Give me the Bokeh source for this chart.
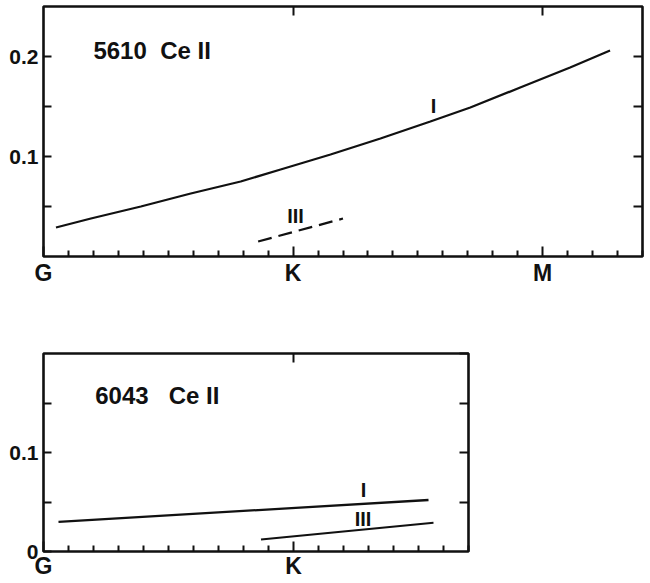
from bokeh.plotting import figure
from bokeh.layouts import column
from bokeh.models import LinearAxis, FixedTicker, Range1d, CustomLabelingPolicy
from bokeh.core.properties import value
from bokeh.embed import file_html
from bokeh.resources import INLINE

# Spectral-type axis: G0 = 0, K0 = 10, M0 = 20 (subclass units)
type_ticks = [0, 10, 20]
type_labels = ["G", "K", "M"]

# Panel 1: 5610 Ce II
top_title = "5610\u00a0\u00a0Ce II"
top_y_ticks = [0.1, 0.2]
top_y_labels = ["0.1", "0.2"]
top_I_x = [0.5, 1.9, 3.9, 5.9, 7.9, 9.5, 11.5, 13.5, 15.5, 17.1, 19.1, 21.1, 22.7]
top_I_y = [0.029, 0.038, 0.050, 0.063, 0.075, 0.087, 0.102, 0.118, 0.135, 0.149,
           0.169, 0.189, 0.206]
top_III_x = [8.6, 12.0]
top_III_y = [0.015, 0.038]

# Panel 2: 6043 Ce II
bot_title = "6043\u00a0\u00a0\u00a0Ce II"
bot_y_ticks = [0.0, 0.1]
bot_y_labels = ["0", "0.1"]
bot_I_x = [0.6, 15.4]
bot_I_y = [0.030, 0.052]
bot_III_x = [8.7, 15.6]
bot_III_y = [0.012, 0.029]

LINE = "#111111"
BOLD = "Liberation Sans"

no_labels = CustomLabelingPolicy(
    code="const all = [...indices]; for (const i of all) indices.unset(i); return indices")


def make_panel(x_end, y_end, frame_w, frame_h, border_top, border_bottom,
               y_ticks, y_labels, x_ticks, x_labels, label_standoff):
    p = figure(frame_width=frame_w, frame_height=frame_h,
               x_range=Range1d(0, x_end), y_range=Range1d(0, y_end),
               x_axis_type=None, y_axis_type=None,
               output_backend="svg", toolbar_location=None,
               min_border_left=43, min_border_right=6,
               min_border_top=border_top, min_border_bottom=border_bottom,
               background_fill_color="white", border_fill_color="white")
    p.outline_line_color = LINE
    p.outline_line_width = 2.6
    p.xgrid.visible = False
    p.ygrid.visible = False

    minor_x = [m for m in range(1, int(x_end) + 1) if m not in x_ticks]
    bottom = LinearAxis(ticker=FixedTicker(ticks=x_ticks, minor_ticks=minor_x),
                        major_label_overrides=dict(zip(x_ticks, x_labels)),
                        axis_line_color=None,
                        major_tick_in=10, major_tick_out=0,
                        minor_tick_in=6, minor_tick_out=0,
                        major_tick_line_width=2, minor_tick_line_width=2,
                        major_tick_line_color=LINE, minor_tick_line_color=LINE,
                        major_label_standoff=label_standoff,
                        major_label_text_font=BOLD,
                        major_label_text_font_style="bold",
                        major_label_text_font_size="23px",
                        major_label_text_color=LINE)
    p.add_layout(bottom, "below")

    left = LinearAxis(ticker=FixedTicker(ticks=y_ticks, minor_ticks=[0.05, 0.15]),
                      major_label_overrides=dict(zip(y_ticks, y_labels)),
                      axis_line_color=None,
                      major_tick_in=8, major_tick_out=0,
                      minor_tick_in=8, minor_tick_out=0,
                      major_tick_line_width=2, minor_tick_line_width=2,
                      major_tick_line_color=LINE, minor_tick_line_color=LINE,
                      major_label_standoff=5,
                      major_label_text_font=BOLD,
                      major_label_text_font_style="bold",
                      major_label_text_font_size="21px",
                      major_label_text_color=LINE)
    p.add_layout(left, "left")

    right = LinearAxis(ticker=FixedTicker(ticks=[0.05, 0.1, 0.15, 0.2]),
                       axis_line_color=None,
                       major_tick_in=9, major_tick_out=0,
                       major_tick_line_width=2, major_tick_line_color=LINE,
                       major_label_standoff=0,
                       major_label_text_font_size="1px",
                       major_label_policy=no_labels)
    p.add_layout(right, "right")

    top_ticks = [t for t in x_ticks if 0 < t < x_end]
    above = LinearAxis(ticker=FixedTicker(ticks=top_ticks),
                       axis_line_color=None,
                       major_tick_in=9, major_tick_out=0,
                       major_tick_line_width=2, major_tick_line_color=LINE,
                       major_label_standoff=0,
                       major_label_text_font_size="1px",
                       major_label_policy=no_labels)
    p.add_layout(above, "above")
    return p


# ---- top panel ----
p1 = make_panel(24, 0.25, 599, 250, 6, 40, top_y_ticks, top_y_labels,
                type_ticks, type_labels, 3)
p1.line(top_I_x, top_I_y, line_color=LINE, line_width=2.3)
p1.line(top_III_x, top_III_y, line_color=LINE, line_width=2.3, line_dash="14 7")
p1.text(x=[2.0], y=[0.206], text=[top_title], text_font=value(BOLD),
        text_font_style="bold", text_font_size="24px", text_color=LINE,
        text_align="left", text_baseline="middle")
p1.text(x=[15.63, 10.1], y=[0.1505, 0.041], text=["I", "III"], text_font=value(BOLD),
        text_font_style="bold", text_font_size="20px", text_color=LINE,
        text_align="center", text_baseline="middle")

# ---- bottom panel ----
p2 = make_panel(17, 0.2, 425, 198, 57, 32, bot_y_ticks, bot_y_labels,
                type_ticks[:2], type_labels[:2], 1)
p2.line(bot_I_x, bot_I_y, line_color=LINE, line_width=2.3)
p2.line(bot_III_x, bot_III_y, line_color=LINE, line_width=2.0)
p2.text(x=[2.07], y=[0.158], text=[bot_title], text_font=value(BOLD),
        text_font_style="bold", text_font_size="24px", text_color=LINE,
        text_align="left", text_baseline="middle")
p2.text(x=[12.8, 12.78], y=[0.0626, 0.0328], text=["I", "III"], text_font=value(BOLD),
        text_font_style="bold", text_font_size="20px", text_color=LINE,
        text_align="center", text_baseline="middle")

layout = column(p1, p2, spacing=0)
open("out.html", "w").write(file_html(layout, INLINE))
